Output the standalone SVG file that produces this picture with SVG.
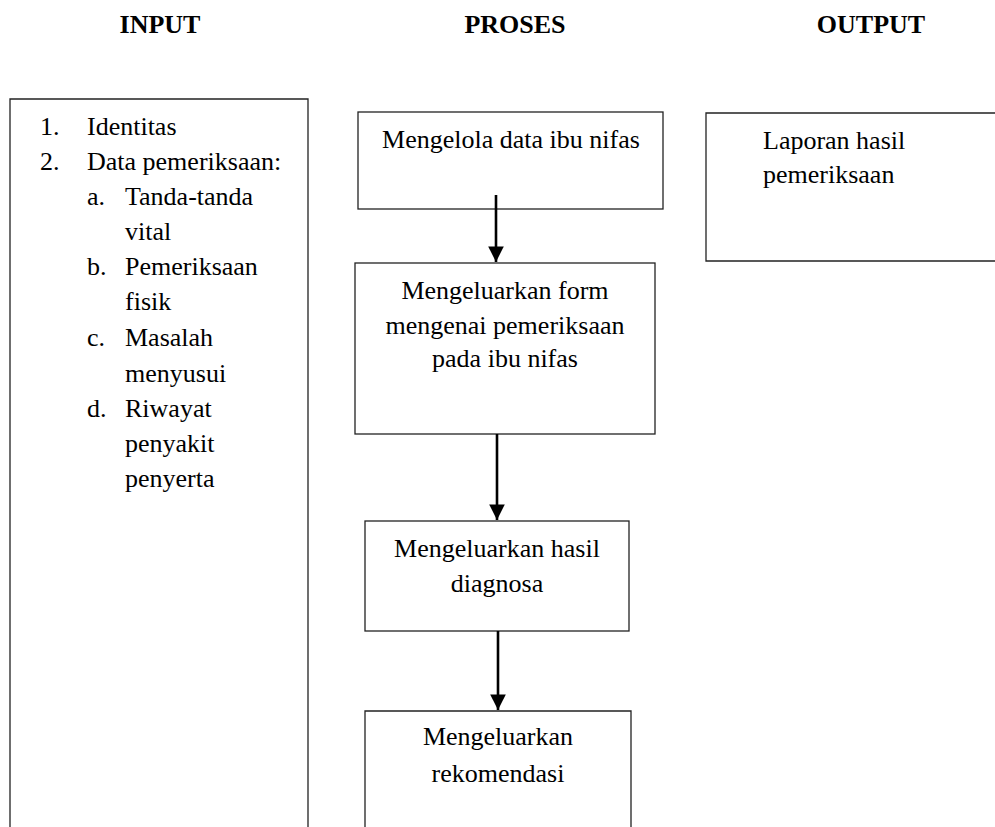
<svg xmlns="http://www.w3.org/2000/svg" width="995" height="827" viewBox="0 0 995 827">
<defs>
<style>
text{font-family:"Liberation Serif","Times New Roman",serif;font-size:26px;fill:#000}
.h{font-weight:bold;text-anchor:middle}
.c{text-anchor:middle}
.box{fill:#fff;stroke:#222;stroke-width:1.3}
.edge{stroke:#000;stroke-width:2.6;fill:none}
</style>
<marker id="ah" markerWidth="6" markerHeight="6" refX="6" refY="3" orient="auto" markerUnits="strokeWidth">
<path d="M0,0 L6,3 L0,6 Z" fill="#000"/>
</marker>
</defs>
<rect width="995" height="827" fill="#fff"/>
<g id="headers">
<text class="h" x="160" y="33">INPUT</text>
<text class="h" x="515" y="33">PROSES</text>
<text class="h" x="871" y="33">OUTPUT</text>
</g>
<g id="input">
<path class="box" d="M10,830 L10,99 L308,99 L308,830"/>
<text x="40" y="135">1.</text><text x="87" y="135">Identitas</text>
<text x="40" y="170">2.</text><text x="87" y="170">Data pemeriksaan:</text>
<text x="87" y="205">a.</text><text x="125" y="205">Tanda-tanda</text>
<text x="125" y="240">vital</text>
<text x="87" y="275">b.</text><text x="125" y="275">Pemeriksaan</text>
<text x="125" y="310">fisik</text>
<text x="87" y="346">c.</text><text x="125" y="346">Masalah</text>
<text x="125" y="382">menyusui</text>
<text x="87" y="417">d.</text><text x="125" y="417">Riwayat</text>
<text x="125" y="452">penyakit</text>
<text x="125" y="487">penyerta</text>
</g>
<g id="p1">
<rect class="box" x="358" y="112" width="305" height="97"/>
<text class="c" x="511" y="148">Mengelola data ibu nifas</text>
</g>
<g id="p2">
<rect class="box" x="355" y="263" width="300" height="171"/>
<text class="c" x="505" y="299">Mengeluarkan form</text>
<text class="c" x="505" y="334">mengenai pemeriksaan</text>
<text class="c" x="505" y="367">pada ibu nifas</text>
</g>
<g id="p3">
<rect class="box" x="365" y="521" width="264" height="110"/>
<text class="c" x="497" y="557">Mengeluarkan hasil</text>
<text class="c" x="497" y="592">diagnosa</text>
</g>
<g id="p4">
<path class="box" d="M365,830 L365,711 L631,711 L631,830"/>
<text class="c" x="498" y="745">Mengeluarkan</text>
<text class="c" x="498" y="782">rekomendasi</text>
</g>
<g id="output">
<path class="box" d="M1000,113 L706,113 L706,261 L1000,261"/>
<text x="763" y="149">Laporan hasil</text>
<text x="763" y="183">pemeriksaan</text>
</g>
<g id="connectors">
<line class="edge" x1="496" y1="195" x2="496" y2="262" marker-end="url(#ah)"/>
<line class="edge" x1="497" y1="434" x2="497" y2="520" marker-end="url(#ah)"/>
<line class="edge" x1="498" y1="631" x2="498" y2="710" marker-end="url(#ah)"/>
</g>
</svg>
